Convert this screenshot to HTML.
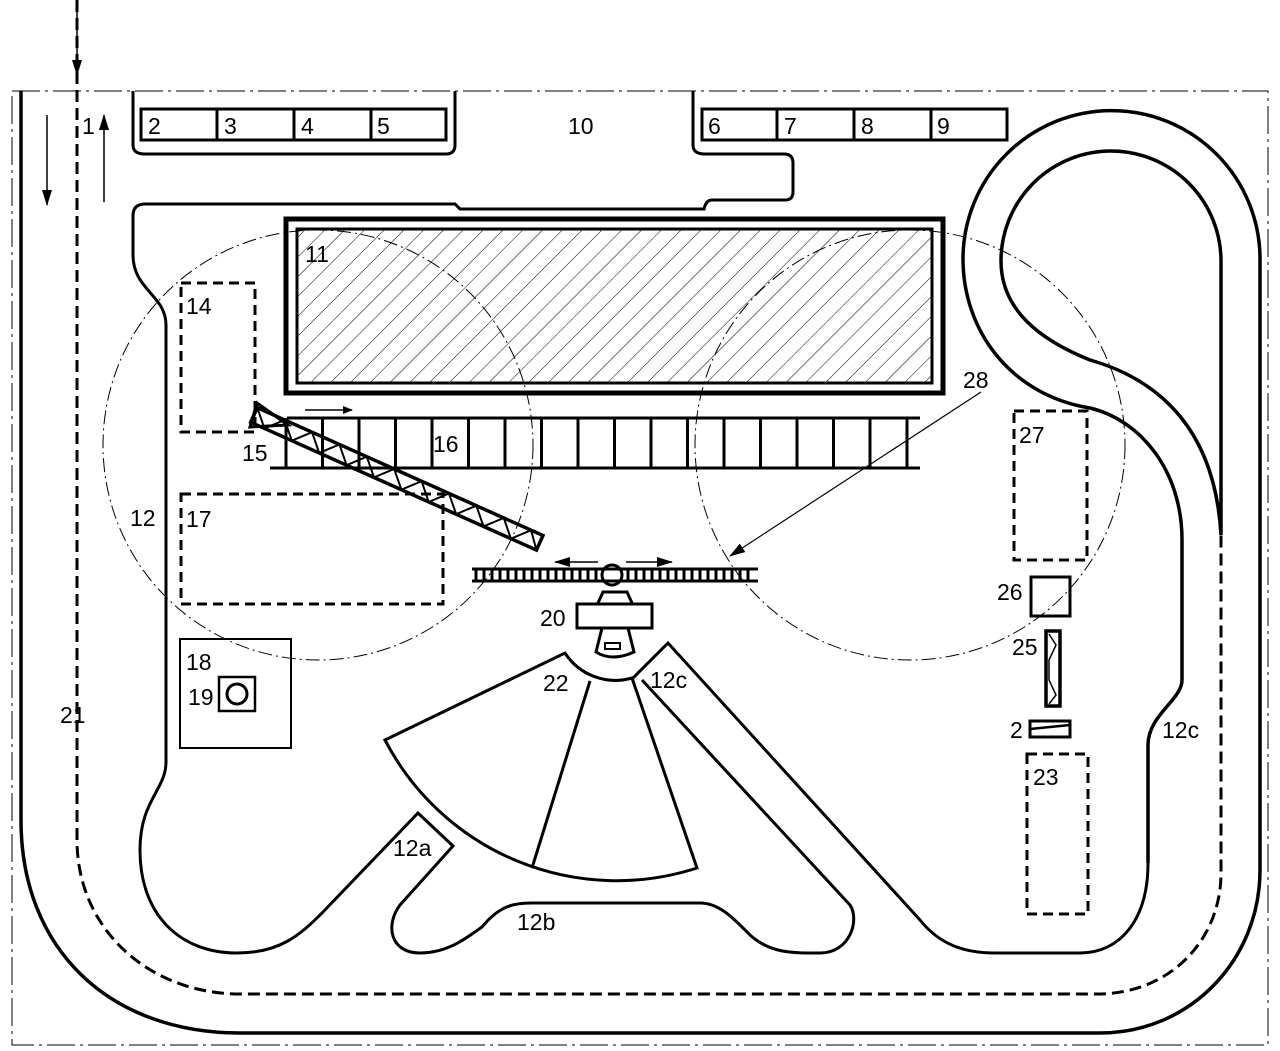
<!DOCTYPE html>
<html><head><meta charset="utf-8"><style>
html,body{margin:0;padding:0;background:#fff;}
svg{display:block;}
text{font-family:"Liberation Sans",sans-serif;font-size:23px;fill:#000;}
</style></head><body>
<svg width="1280" height="1051" viewBox="0 0 1280 1051" xmlns="http://www.w3.org/2000/svg">
<defs>
<pattern id="h" patternUnits="userSpaceOnUse" width="14" height="14" patternTransform="rotate(45)">
<line x1="0" y1="0" x2="0" y2="14" stroke="#000" stroke-width="1"/>
</pattern>
<marker id="ah" markerWidth="10" markerHeight="8" refX="9" refY="4" orient="auto" markerUnits="userSpaceOnUse">
<path d="M0,0 L10,4 L0,8 z" fill="#000"/>
</marker>
<marker id="ahb" markerWidth="16" markerHeight="10" refX="15" refY="5" orient="auto" markerUnits="userSpaceOnUse">
<path d="M0,0 L16,5 L0,10 z" fill="#000"/>
</marker>
</defs>
<g fill="none" stroke="#000">
<!-- boundary dash-dot -->
<rect x="12" y="91" width="1256" height="954" stroke-width="1" stroke-dasharray="28,5,3,5"/>
<!-- dashed circles -->
<circle cx="318" cy="445" r="215" stroke-width="1" stroke-dasharray="14,4,2,4"/>
<circle cx="910" cy="445" r="215" stroke-width="1" stroke-dasharray="14,4,2,4"/>

<!-- outer road solid -->
<path d="M21,91 L21,820 C21,950 110,1033 240,1033 L1100,1033 C1190,1033 1260,960 1260,870 L1260,259 A148.5,148.5 0 0 0 963,259 C963,330 1010,395 1090,408 C1140,420 1182,470 1182,540 L1182,680 C1182,700 1148,715 1148,745 L1148,863" stroke-width="3.5"/>
<!-- inner loop -->
<path d="M1221,535 L1221,261 A110,110 0 0 0 1001,261 C1001,310 1040,340 1090,360 C1160,380 1215,430 1221,535" stroke-width="3.5"/>
<!-- dashed 21 -->
<path d="M77,0 L77,840 C77,930 150,994 240,994 L1097,994 C1170,994 1221,940 1221,873 L1221,535" stroke-width="3" stroke-dasharray="12,6"/>

<!-- top shapes -->
<path d="M133,91 L133,145 Q133,154 145,154 L446,154 Q455,154 455,145 L455,91" stroke-width="3"/>
<path d="M693,91 L693,145 Q693,154 705,154 L784,154 Q793,154 793,163 L793,192 Q793,200 785,200 L712,200 Q706,200 704,209 L460,209 L455,204 L145,204 Q133,204 133,216 L133,255 C133,290 166,295 166,325 L166,762 C166,790 140,800 140,850 C140,915 180,953 237,953 C280,953 300,935 322,913 L418,813 L453,846 L400,905 C385,925 390,953 420,953 C450,953 470,935 482,927 C500,905 515,903 531,903 L700,903 C720,903 735,920 750,935 C770,953 790,953 820,953 C850,953 860,920 850,905 L642,680" stroke-width="3"/>
<!-- 12c right region -->
<path d="M633,678 L668,643 L920,920 C940,945 965,953 995,953 L1080,953 C1120,953 1148,920 1148,863" stroke-width="3"/>
<!-- boxes 2-5 and 6-9 -->
<rect x="141" y="109" width="305" height="31" stroke-width="3"/>
<path d="M217,109 V140 M294,109 V140 M371,109 V140" stroke-width="3"/>
<rect x="702" y="109" width="305" height="31" stroke-width="3"/>
<path d="M777,109 V140 M854,109 V140 M931,109 V140" stroke-width="3"/>

<!-- building 11 -->
<rect x="286" y="219" width="657" height="174" stroke-width="5"/>
<rect x="297" y="229" width="635" height="154" stroke-width="3" fill="url(#h)"/>

<!-- dashed boxes -->
<rect x="181" y="283" width="74" height="149" stroke-width="3" stroke-dasharray="10,6"/>
<rect x="181" y="494" width="262" height="110" stroke-width="3" stroke-dasharray="10,6"/>
<rect x="1014" y="411" width="73" height="149" stroke-width="3" stroke-dasharray="10,6"/>
<rect x="1027" y="754" width="61" height="160" stroke-width="3" stroke-dasharray="10,6"/>
<!-- 18/19 -->
<rect x="180" y="639" width="111" height="109" stroke-width="2"/>
<rect x="219" y="677" width="36" height="34" stroke-width="2.5"/>
<circle cx="237" cy="694" r="10" stroke-width="3"/>

<!-- rail 16 -->
<path d="M287,418 H920 M270,468 H920" stroke-width="3"/>
<path d="M286,418V468 M322.5,418V468 M359,418V468 M395.5,418V468 M432,418V468 M468.5,418V468 M505,418V468 M541.5,418V468 M578,418V468 M614.5,418V468 M651,418V468 M687.5,418V468 M724,418V468 M760.5,418V468 M797,418V468 M833.5,418V468 M870,418V468 M907,418V468" stroke-width="3"/>
<line x1="305" y1="410" x2="352" y2="410" stroke-width="1.5" marker-end="url(#ah)"/>

<!-- conveyor 15 -->
<g transform="translate(254,415) rotate(24.1)">
<rect x="0" y="-8" width="313" height="16" stroke-width="3.5"/>
<path d="M0,-8 L15,8 L30,-8 L45,8 L60,-8 L75,8 L90,-8 L105,8 L120,-8 L135,8 L150,-8 L165,8 L180,-8 L195,8 L210,-8 L225,8 L240,-8 L255,8 L270,-8 L285,8 L300,-8 L313,8" stroke-width="2"/>
</g>
<path d="M250,427 L257,403 L288,425 Z" stroke-width="3"/>

<!-- rail 20 -->
<path d="M472,569 H758 M472,581 H758" stroke-width="3"/>
<path d="M476,569V581 M484,569V581 M492,569V581 M500,569V581 M508,569V581 M516,569V581 M524,569V581 M532,569V581 M540,569V581 M548,569V581 M556,569V581 M564,569V581 M572,569V581 M580,569V581 M588,569V581 M596,569V581 M628,569V581 M636,569V581 M644,569V581 M652,569V581 M660,569V581 M668,569V581 M676,569V581 M684,569V581 M692,569V581 M700,569V581 M708,569V581 M716,569V581 M724,569V581 M732,569V581 M740,569V581 M748,569V581" stroke-width="3"/>
<circle cx="612" cy="575" r="10" stroke-width="3"/>
<line x1="598" y1="562" x2="555" y2="562" stroke-width="1.5" marker-end="url(#ahb)"/>
<line x1="626" y1="562" x2="672" y2="562" stroke-width="1.5" marker-end="url(#ahb)"/>
<!-- 28 leader -->
<line x1="981" y1="392" x2="730" y2="556" stroke-width="1.2" marker-end="url(#ahb)"/>
<!-- machine 20 -->
<path d="M598,603 L603,592 L627,592 L632,603" stroke-width="3"/>
<rect x="577" y="604" width="75" height="24" stroke-width="3"/>
<path d="M602,628 L596,652 Q612,662 634,652 L628,628" stroke-width="3"/>
<rect x="605" y="643" width="15" height="6" stroke-width="2"/>

<!-- fan 22 -->
<path d="M385,740 L565,653 A60,60 0 0 0 632,678 L697,868 A261,261 0 0 1 385,740 Z" stroke-width="3"/>
<path d="M590,681 L532,868" stroke-width="3"/>

<!-- 26,25,24 -->
<rect x="1031" y="577" width="39" height="39" stroke-width="3"/>
<rect x="1046" y="631" width="14" height="75" stroke-width="3.5"/>
<path d="M1049,634 L1056,645 L1049,660 L1049,680 L1056,695 L1049,704" stroke-width="1.5"/>
<rect x="1030" y="721" width="40" height="16" stroke-width="3"/>
<path d="M1030,729 L1070,725" stroke-width="2.5"/>

<!-- left arrows -->
<line x1="77" y1="0" x2="77" y2="75" stroke-width="1.5" marker-end="url(#ahb)"/>
<line x1="47" y1="115" x2="47" y2="205" stroke-width="1.5" marker-end="url(#ahb)"/>
<line x1="104" y1="202" x2="104" y2="115" stroke-width="1.5" marker-end="url(#ahb)"/>
</g>

<g>
<text x="82" y="134">1</text>
<text x="148" y="134">2</text>
<text x="224" y="134">3</text>
<text x="301" y="134">4</text>
<text x="377" y="134">5</text>
<text x="568" y="134">10</text>
<text x="708" y="134">6</text>
<text x="784" y="134">7</text>
<text x="861" y="134">8</text>
<text x="937" y="134">9</text>
<text x="305" y="262">11</text>
<text x="186" y="314">14</text>
<text x="242" y="461">15</text>
<text x="433" y="452">16</text>
<text x="130" y="526">12</text>
<text x="186" y="527">17</text>
<text x="186" y="670">18</text>
<text x="188" y="705">19</text>
<text x="60" y="723">21</text>
<text x="540" y="626">20</text>
<text x="543" y="691">22</text>
<text x="650" y="688">12c</text>
<text x="963" y="388">28</text>
<text x="1019" y="443">27</text>
<text x="997" y="600">26</text>
<text x="1012" y="655">25</text>
<text x="1010" y="738">2</text>
<text x="1033" y="785">23</text>
<text x="1162" y="738">12c</text>
<text x="393" y="856">12a</text>
<text x="517" y="930">12b</text>
</g>
</svg>
</body></html>
